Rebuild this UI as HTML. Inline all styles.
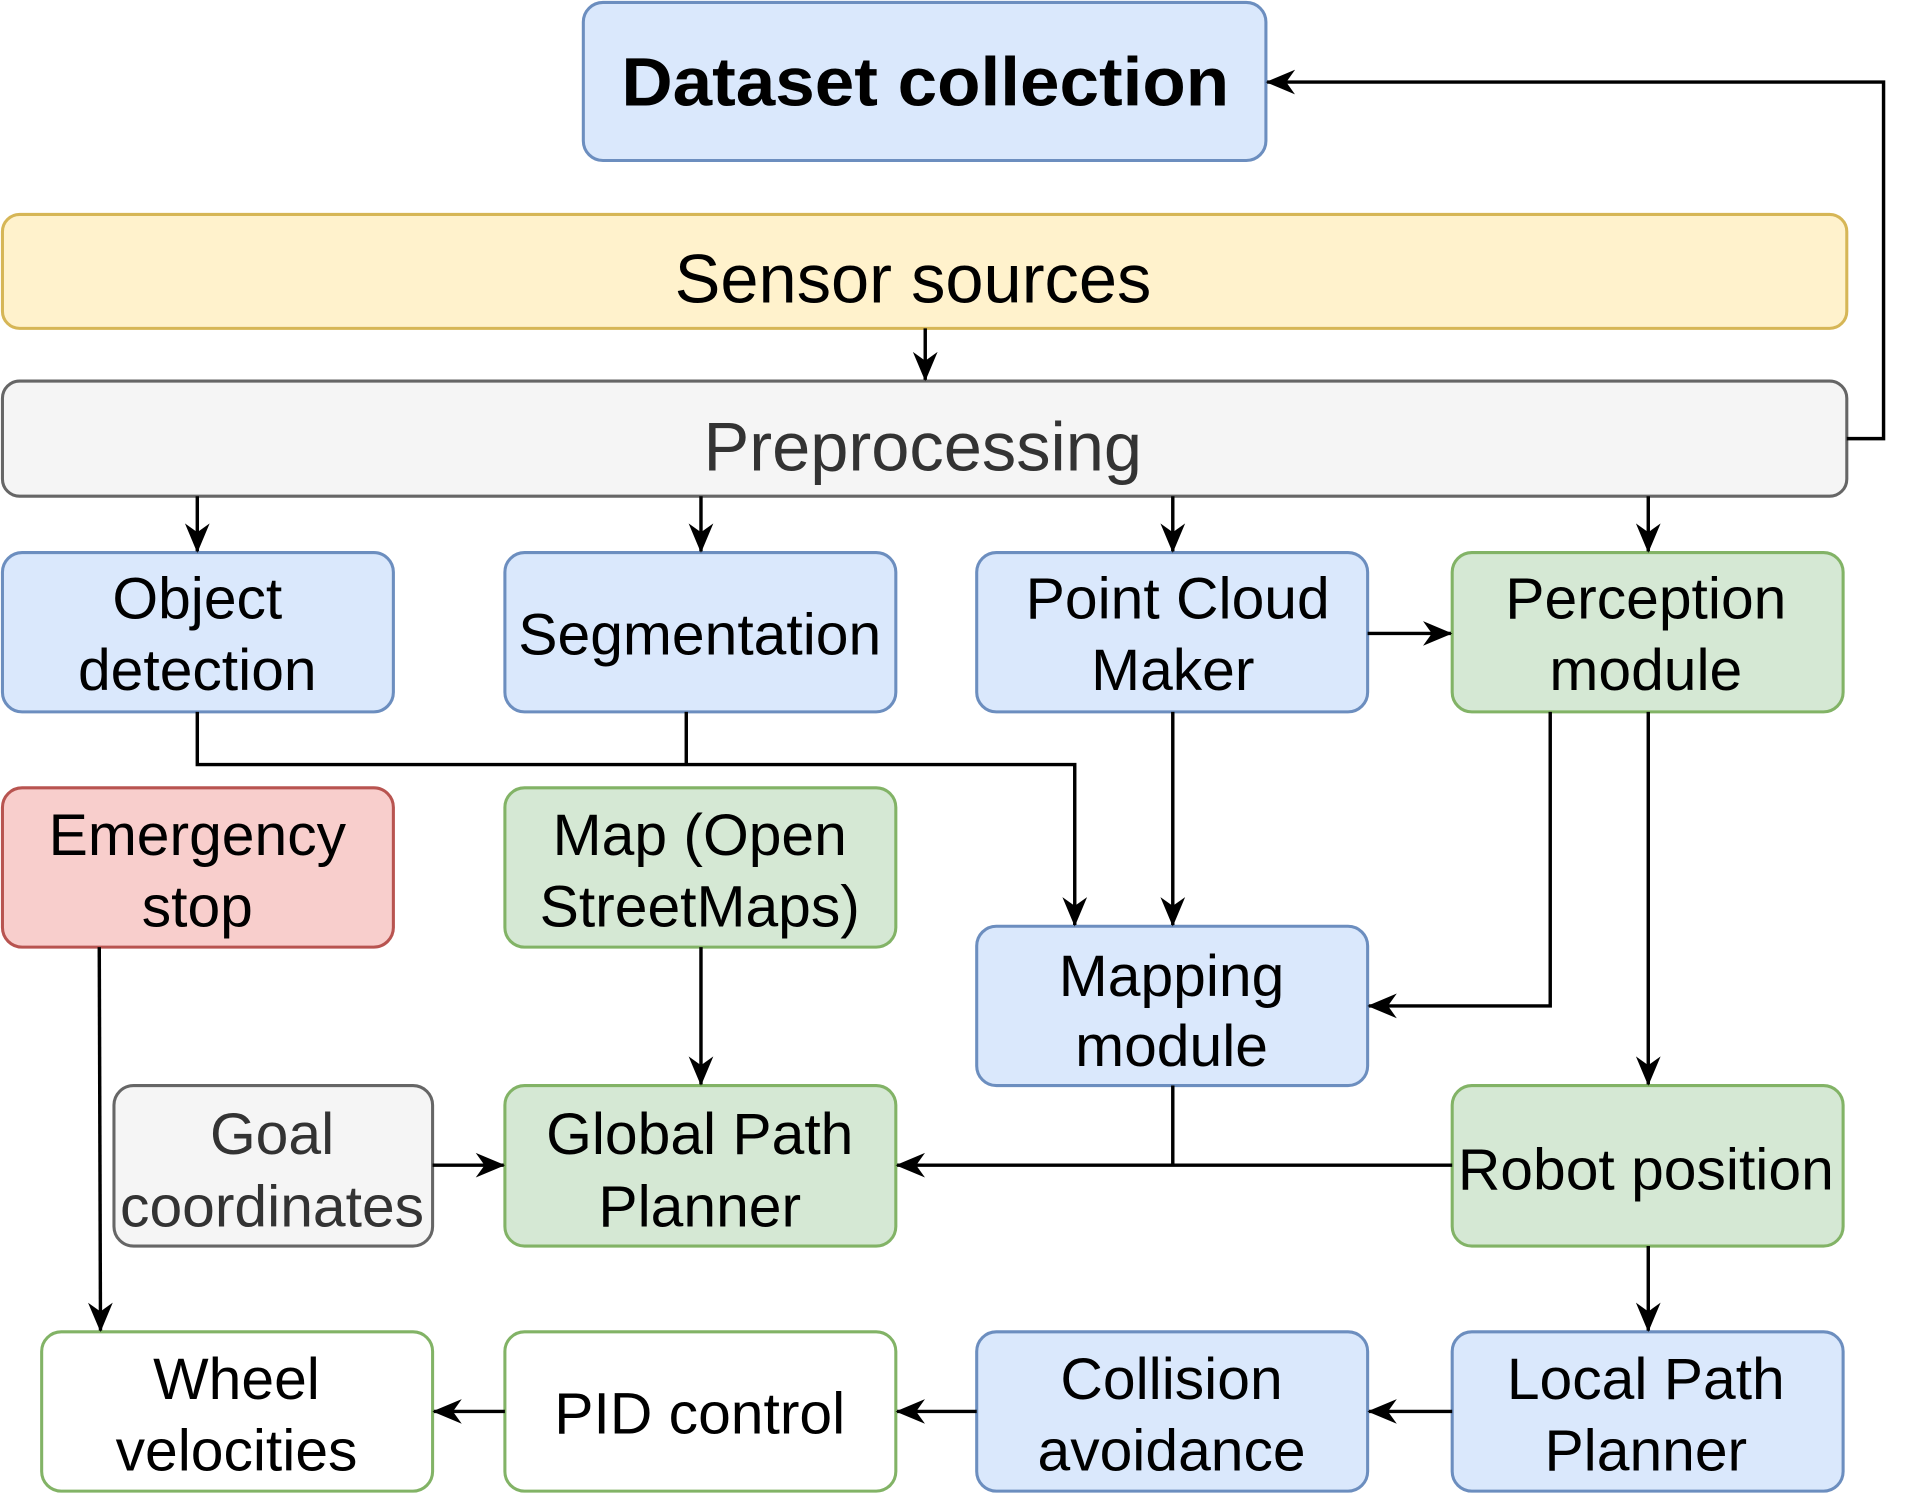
<!DOCTYPE html>
<html><head><meta charset="utf-8"><style>
html,body{margin:0;padding:0;background:#fff;}
svg{display:block;}
text{font-family:"Liberation Sans",Arial,sans-serif;text-anchor:middle;}
</style></head><body>
<svg width="1924" height="1496" viewBox="0 0 1570 1221" preserveAspectRatio="none" xmlns="http://www.w3.org/2000/svg">
<defs>
<marker id="a" viewBox="0 0 10 10" refX="9.5" refY="5" markerWidth="24" markerHeight="24" markerUnits="userSpaceOnUse" orient="auto">
<path d="M0,0.8 L10,5 L0,9.2 L3,5 z" fill="#000"/>
</marker>
</defs>
<g stroke-width="2.5">
<rect x="476" y="2" width="557" height="129" rx="16" fill="#dae8fc" stroke="#6c8ebf"/>
<rect x="2" y="175" width="1505" height="93" rx="14" fill="#fff2cc" stroke="#d6b656"/>
<rect x="2" y="311" width="1505" height="94" rx="14" fill="#f5f5f5" stroke="#666666"/>
<rect x="2" y="451" width="319" height="130" rx="16" fill="#dae8fc" stroke="#6c8ebf"/>
<rect x="412" y="451" width="319" height="130" rx="16" fill="#dae8fc" stroke="#6c8ebf"/>
<rect x="797" y="451" width="319" height="130" rx="16" fill="#dae8fc" stroke="#6c8ebf"/>
<rect x="1185" y="451" width="319" height="130" rx="16" fill="#d5e8d4" stroke="#82b366"/>
<rect x="2" y="643" width="319" height="130" rx="16" fill="#f8cecc" stroke="#b85450"/>
<rect x="412" y="643" width="319" height="130" rx="16" fill="#d5e8d4" stroke="#82b366"/>
<rect x="797" y="756" width="319" height="130" rx="16" fill="#dae8fc" stroke="#6c8ebf"/>
<rect x="93" y="886" width="260" height="131" rx="16" fill="#f5f5f5" stroke="#666666"/>
<rect x="412" y="886" width="319" height="131" rx="16" fill="#d5e8d4" stroke="#82b366"/>
<rect x="1185" y="886" width="319" height="131" rx="16" fill="#d5e8d4" stroke="#82b366"/>
<rect x="34" y="1087" width="319" height="130" rx="16" fill="#ffffff" stroke="#82b366"/>
<rect x="412" y="1087" width="319" height="130" rx="16" fill="#ffffff" stroke="#82b366"/>
<rect x="797" y="1087" width="319" height="130" rx="16" fill="#dae8fc" stroke="#6c8ebf"/>
<rect x="1185" y="1087" width="319" height="130" rx="16" fill="#dae8fc" stroke="#6c8ebf"/>
</g>
<g fill="none" stroke="#000" stroke-width="2.8">
<path d="M755 268 V310" marker-end="url(#a)"/>
<path d="M1507 358 H1537 V67 H1034" marker-end="url(#a)"/>
<path d="M161 405 V450" marker-end="url(#a)"/>
<path d="M572 405 V450" marker-end="url(#a)"/>
<path d="M957 405 V450" marker-end="url(#a)"/>
<path d="M1345 405 V450" marker-end="url(#a)"/>
<path d="M161 581 V624 H877 V755" marker-end="url(#a)"/>
<path d="M560 581 V624"/>
<path d="M957 581 V755" marker-end="url(#a)"/>
<path d="M1116 517 H1184" marker-end="url(#a)"/>
<path d="M1265 581 V821 H1117" marker-end="url(#a)"/>
<path d="M1345 581 V885" marker-end="url(#a)"/>
<path d="M572 773 V885" marker-end="url(#a)"/>
<path d="M957 886 V951"/>
<path d="M1185 951 H732" marker-end="url(#a)"/>
<path d="M353 951 H411" marker-end="url(#a)"/>
<path d="M81 773 L82 1086" marker-end="url(#a)"/>
<path d="M1345 1017 V1086" marker-end="url(#a)"/>
<path d="M1185 1152 H1117" marker-end="url(#a)"/>
<path d="M797 1152 H732" marker-end="url(#a)"/>
<path d="M412 1152 H354" marker-end="url(#a)"/>
</g>
<g font-size="48" fill="#000">
<text x="755" y="86" font-weight="bold" font-size="56" textLength="496" lengthAdjust="spacingAndGlyphs">Dataset collection</text>
<text x="745" y="247" font-size="56">Sensor sources</text>
<text x="753" y="384" font-size="56" fill="#333">Preprocessing</text>
<text x="161" y="505">Object</text><text x="161" y="563">detection</text>
<text x="571" y="534">Segmentation</text>
<text x="961" y="505">Point Cloud</text><text x="957" y="563">Maker</text>
<text x="1343" y="505">Perception</text><text x="1343" y="563">module</text>
<text x="161" y="698">Emergency</text><text x="161" y="756">stop</text>
<text x="571" y="698">Map (Open</text><text x="571" y="756">StreetMaps)</text>
<text x="956" y="813">Mapping</text><text x="956" y="870">module</text>
<text x="222" y="942" fill="#333">Goal</text><text x="222" y="1001" fill="#333">coordinates</text>
<text x="571" y="942">Global Path</text><text x="571" y="1001">Planner</text>
<text x="1343" y="971">Robot position</text>
<text x="193" y="1142">Wheel</text><text x="193" y="1200">velocities</text>
<text x="571" y="1170">PID control</text>
<text x="956" y="1142">Collision</text><text x="956" y="1200">avoidance</text>
<text x="1343" y="1142">Local Path</text><text x="1343" y="1200">Planner</text>
</g>
</svg>
</body></html>
